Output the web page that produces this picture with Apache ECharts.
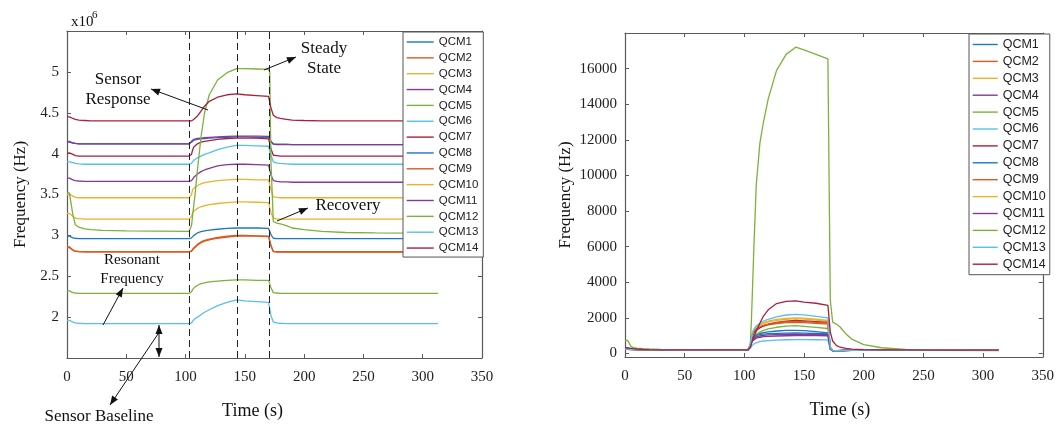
<!DOCTYPE html>
<html><head><meta charset="utf-8">
<script src="https://cdn.jsdelivr.net/npm/echarts@6/dist/echarts.min.js"></script>
<style>html,body{margin:0;padding:0;background:#fff}#c{width:1057px;height:426px}</style>
</head><body><div id="c"></div>
<script>
// ---------- DATA ----------
const NAMES = ['QCM1','QCM2','QCM3','QCM4','QCM5','QCM6','QCM7','QCM8','QCM9','QCM10','QCM11','QCM12','QCM13','QCM14'];
const X_TICKS = [0,50,100,150,200,250,300,350];
const LEFT_Y_TICKS = [2,2.5,3,3.5,4,4.5,5];
const RIGHT_Y_TICKS = [0,2000,4000,6000,8000,10000,12000,14000,16000];
const T = [0,2,3,5,7,10,15,20,30,50,103,104,105,106,107,108,110,113,116,120,127,135,143,150,160,170,171,172,174,177,180,185,190,200,215,235,260,313];
const PHASES = [103.5,143.5,170.5];

// Left panel: resonant frequency (x10^6 Hz)
const L1  = [4.15,4.15,4.15,4.13,4.125,4.12,4.12,4.12,4.12,4.12, 4.12,4.12,4.14,4.16,4.165,4.17,4.175,4.18,4.185,4.19, 4.195,4.20,4.205,4.205,4.20,4.20,4.19,4.15,4.12,4.115, 4.115,4.115,4.11,4.11,4.11,4.11,4.11,4.11];
const L2  = [2.85,2.85,2.85,2.82,2.805,2.80,2.80,2.80,2.80,2.80, 2.80,2.80,2.81,2.83,2.85,2.865,2.89,2.92,2.94,2.955, 2.975,2.99,3.00,3.00,2.995,2.99,2.98,2.88,2.805,2.80, 2.80,2.80,2.80,2.80,2.80,2.80,2.80,2.80];
const L3  = [3.50,3.50,3.50,3.48,3.465,3.46,3.46,3.46,3.46,3.46, 3.46,3.46,3.50,3.56,3.58,3.59,3.61,3.63,3.645,3.655, 3.67,3.68,3.685,3.685,3.68,3.68,3.67,3.56,3.47,3.465, 3.46,3.46,3.46,3.46,3.46,3.46,3.46,3.46];
const L4  = [4.14,4.14,4.14,4.13,4.125,4.12,4.12,4.12,4.12,4.12, 4.12,4.12,4.15,4.17,4.175,4.18,4.185,4.19,4.195,4.20, 4.205,4.21,4.215,4.215,4.215,4.21,4.20,4.15,4.115,4.11, 4.11,4.11,4.11,4.11,4.11,4.11,4.11,4.11];
const L5  = [2.32,2.32,2.31,2.30,2.295,2.29,2.29,2.29,2.29,2.29, 2.29,2.29,2.31,2.34,2.36,2.37,2.39,2.41,2.42,2.43, 2.44,2.45,2.455,2.455,2.45,2.45,2.44,2.36,2.30,2.295, 2.29,2.29,2.29,2.29,2.29,2.29,2.29,2.29];
const L6  = [3.90,3.90,3.90,3.89,3.88,3.875,3.87,3.87,3.87,3.87, 3.87,3.87,3.88,3.90,3.92,3.93,3.95,3.97,3.99,4.01, 4.05,4.08,4.10,4.10,4.095,4.09,4.08,3.98,3.90,3.885, 3.88,3.875,3.87,3.87,3.87,3.87,3.87,3.87];
const L7  = [4.00,4.01,4.01,3.99,3.975,3.97,3.97,3.97,3.97,3.97, 3.97,3.97,3.99,4.05,4.08,4.10,4.12,4.14,4.15,4.16, 4.175,4.185,4.19,4.19,4.19,4.18,4.17,4.06,3.98,3.975, 3.97,3.97,3.97,3.97,3.97,3.97,3.97,3.97];
const L8  = [2.99,2.99,2.98,2.97,2.965,2.96,2.96,2.96,2.96,2.96, 2.96,2.96,2.97,2.99,3.00,3.01,3.03,3.045,3.055,3.065, 3.075,3.085,3.09,3.09,3.09,3.085,3.08,3.01,2.965,2.96, 2.96,2.96,2.96,2.96,2.96,2.96,2.96,2.96];
const L9  = [2.86,2.86,2.85,2.82,2.81,2.805,2.80,2.80,2.80,2.80, 2.80,2.80,2.805,2.82,2.84,2.855,2.88,2.91,2.93,2.945, 2.965,2.98,2.99,2.99,2.99,2.985,2.975,2.87,2.80,2.795, 2.795,2.795,2.795,2.795,2.795,2.795,2.795,2.795];
const L10 = [3.27,3.27,3.27,3.23,3.21,3.205,3.20,3.20,3.20,3.20, 3.20,3.20,3.23,3.28,3.30,3.31,3.33,3.35,3.365,3.375, 3.39,3.40,3.41,3.41,3.405,3.40,3.39,3.28,3.21,3.20, 3.20,3.20,3.20,3.20,3.20,3.20,3.20,3.20];
const L11 = [3.70,3.70,3.69,3.68,3.67,3.665,3.66,3.66,3.66,3.66, 3.66,3.66,3.67,3.69,3.71,3.73,3.75,3.78,3.80,3.82, 3.85,3.865,3.87,3.87,3.865,3.86,3.85,3.74,3.67,3.66, 3.655,3.655,3.65,3.65,3.65,3.65,3.65,3.65];
const L12 = [3.52,3.52,3.50,3.25,3.13,3.10,3.08,3.07,3.06,3.055, 3.05,3.05,3.12,3.25,3.38,3.50,3.80,4.20,4.50,4.72, 4.90,4.99,5.04,5.04,5.035,5.03,5.00,3.90,3.17,3.15, 3.14,3.12,3.09,3.07,3.05,3.035,3.03,3.025];
const L13 = [1.96,1.96,1.95,1.94,1.93,1.925,1.92,1.92,1.92,1.92, 1.92,1.92,1.93,1.95,1.97,1.98,2.00,2.03,2.06,2.09, 2.14,2.18,2.21,2.20,2.19,2.18,2.17,2.02,1.94,1.93, 1.925,1.92,1.92,1.92,1.92,1.92,1.92,1.92];
const L14 = [4.45,4.45,4.44,4.43,4.42,4.41,4.405,4.40,4.40,4.40, 4.40,4.40,4.40,4.41,4.42,4.43,4.46,4.52,4.58,4.64, 4.69,4.72,4.73,4.72,4.71,4.70,4.69,4.56,4.47,4.44, 4.43,4.42,4.41,4.405,4.40,4.40,4.40,4.40];

// Right panel: frequency shift (Hz)
const R1  = [260,255,250,240,230,220,210,205,200,200, 200,200,400,650,850,950,1050,1120,1170,1210, 1260,1290,1300,1280,1220,1150,1100,250,150,150, 160,170,180,190,190,190,190,190];
const R2  = [250,250,245,235,225,215,210,205,200,200, 200,200,450,800,1050,1200,1320,1450,1530,1600, 1680,1730,1750,1730,1690,1650,1600,300,160,150, 160,170,180,185,190,190,190,190];
const R3  = [240,240,235,230,220,215,210,205,200,200, 200,200,500,900,1150,1300,1450,1580,1680,1770, 1860,1920,1950,1930,1870,1800,1750,300,150,140, 150,165,175,185,190,190,190,190];
const R4  = [230,230,225,220,215,210,205,200,200,200, 200,200,380,600,720,800,860,910,940,960, 980,995,1000,1000,1000,995,980,250,150,150, 160,170,180,185,190,190,190,190];
const R5  = [240,240,235,230,225,215,210,205,200,200, 200,200,400,700,850,950,1080,1200,1300,1380, 1470,1530,1560,1520,1460,1400,1380,280,150,150, 160,170,180,185,190,190,190,190];
const R6  = [230,230,225,220,215,210,205,200,200,200, 200,200,280,400,480,540,600,660,700,720, 750,770,780,780,770,760,750,220,140,140, 150,165,175,185,190,190,190,190];
const R7  = [260,260,255,245,235,225,215,205,200,200, 200,200,420,780,1000,1150,1300,1450,1550,1640, 1740,1810,1850,1830,1790,1750,1700,350,170,160, 165,170,180,185,190,190,190,190];
const R8  = [250,250,245,235,225,215,210,205,200,200, 200,200,450,750,880,950,1010,1060,1090,1110, 1130,1145,1150,1140,1120,1100,1080,260,150,145, 155,165,175,185,190,190,190,190];
const R9  = [250,250,245,235,225,215,210,205,200,200, 200,200,480,850,1100,1250,1380,1500,1580,1650, 1730,1780,1800,1790,1750,1700,1660,300,160,150, 160,170,180,185,190,190,190,190];
const R10 = [250,250,245,235,225,215,210,205,200,200, 200,200,550,950,1200,1350,1500,1620,1720,1810, 1910,1970,2000,1980,1920,1850,1800,320,160,150, 160,170,180,185,190,190,190,190];
const R11 = [240,240,235,225,220,210,205,200,200,200, 200,200,420,680,800,870,930,980,1010,1040, 1060,1075,1080,1075,1065,1050,1030,260,150,145, 155,165,175,185,190,190,190,190];
const R12 = [700,750,850,400,330,300,270,250,230,210, 200,200,500,2000,4000,6000,9500,11800,13000,14300, 15900,16800,17200,17050,16800,16550,16500,3000,1750,1650, 1500,1100,800,500,320,220,180,160];
const R13 = [240,240,235,230,220,215,210,205,200,200, 200,200,500,900,1150,1350,1550,1700,1820,1920, 2060,2160,2200,2170,2080,2000,1960,330,160,150, 160,170,180,185,190,190,190,190];
const R14 = [330,320,310,290,270,250,230,215,205,200, 200,200,350,550,750,950,1250,1700,2100,2450, 2800,2920,2950,2880,2820,2700,2600,1200,700,450, 350,280,240,210,200,195,190,190];

const LEFT = [L1,L2,L3,L4,L5,L6,L7,L8,L9,L10,L11,L12,L13,L14];
const RIGHT = [R1,R2,R3,R4,R5,R6,R7,R8,R9,R10,R11,R12,R13,R14];

// ---------- STYLE ----------
const COLORS = ['#1a78c2','#d95a22','#ebb22c','#84399a','#7cb23a','#55c0ee','#a8213c',
                '#1a78c2','#d95a22','#ebb22c','#84399a','#7cb23a','#55c0ee','#a8213c'];
const SERIF = '"Liberation Serif", "Times New Roman", serif';
const SANS = '"Liberation Sans", Arial, sans-serif';
const AX = '#5a5a5a';

const chart = echarts.init(document.getElementById('c'), null, {renderer:'canvas'});

function xAxisDef(grid, pos, showLabels, nameCfg) {
  return Object.assign({
    type:'value', gridIndex:grid, position:pos, min:0, max:350, interval:50,
    axisLine:{show:true, onZero:false, lineStyle:{color:AX, width:1.2}},
    axisTick:{show:true, inside:true, length:4, lineStyle:{color:AX}},
    axisLabel:{show:showLabels, fontFamily:SERIF, fontSize:15, color:'#222', margin:12},
    splitLine:{show:false}
  }, nameCfg || {});
}

const LGRID = {left:67, top:31, width:415, height:327};
const RGRID = {left:625, top:33, width:425, height:324};

const series = [];
NAMES.forEach((n,i)=>{
  const s = {
    name:n, type:'line', xAxisIndex:0, yAxisIndex:0, symbol:'none', showSymbol:false,
    lineStyle:{width:1.3, color:COLORS[i]}, itemStyle:{color:COLORS[i]},
    data:T.map((t,k)=>[t, LEFT[i][k]])
  };
  if (i===0) {
    s.markLine = {symbol:['none','none'], silent:true, label:{show:false},
      lineStyle:{color:'#222', type:[7,4], width:1},
      data:PHASES.map(p=>({xAxis:p}))};
  }
  series.push(s);
});
NAMES.forEach((n,i)=>{
  series.push({
    name:n, type:'line', xAxisIndex:2, yAxisIndex:2, symbol:'none', showSymbol:false,
    lineStyle:{width:1.3, color:COLORS[i]}, itemStyle:{color:COLORS[i]},
    data:T.map((t,k)=>[t, RIGHT[i][k]])
  });
});

const legendBase = {
  orient:'vertical', selectedMode:false, backgroundColor:'#fff',
  borderColor:'#555', borderWidth:1, data:NAMES, z:10,
  itemStyle:{opacity:0, borderWidth:0},
  lineStyle:{width:1.4}
};

const option = {
  animation:false,
  backgroundColor:'#fff',
  grid:[Object.assign({containLabel:false}, LGRID), Object.assign({containLabel:false}, RGRID)],
  xAxis:[
    xAxisDef(0,'bottom',true,{name:'Time (s)', nameLocation:'middle', nameGap:44,
      nameTextStyle:{fontFamily:SERIF, fontSize:18, color:'#111', padding:[0,44,0,0]}}),
    xAxisDef(0,'top',false),
    xAxisDef(1,'bottom',true,{name:'Time (s)', nameLocation:'middle', nameGap:44,
      nameTextStyle:{fontFamily:SERIF, fontSize:18, color:'#111', padding:[0,0,0,12]}}),
    xAxisDef(1,'top',false)
  ],
  yAxis:[
    {type:'value', gridIndex:0, position:'left', min:1.5, max:5.5, interval:0.5,
     name:'Frequency (Hz)', nameLocation:'middle', nameGap:38,
     nameTextStyle:{fontFamily:SERIF, fontSize:17, color:'#111'},
     axisLine:{show:true, onZero:false, lineStyle:{color:AX, width:1.2}},
     axisTick:{show:true, inside:true, length:4, lineStyle:{color:AX}},
     axisLabel:{fontFamily:SERIF, fontSize:15, color:'#222', margin:8, showMinLabel:false, showMaxLabel:false},
     splitLine:{show:false}},
    {type:'value', gridIndex:0, position:'right', min:1.5, max:5.5, interval:0.5,
     axisLine:{show:true, onZero:false, lineStyle:{color:AX, width:1.2}},
     axisTick:{show:true, inside:true, length:4, lineStyle:{color:AX}},
     axisLabel:{show:false}, splitLine:{show:false}},
    {type:'value', gridIndex:1, position:'left', min:-200, max:18000,
     name:'Frequency (Hz)', nameLocation:'middle', nameGap:51,
     nameTextStyle:{fontFamily:SERIF, fontSize:17, color:'#111'},
     axisLine:{show:true, onZero:false, lineStyle:{color:AX, width:1.2}},
     axisTick:{show:true, inside:true, length:4, lineStyle:{color:AX}, customValues:RIGHT_Y_TICKS},
     axisLabel:{fontFamily:SERIF, fontSize:15, color:'#222', margin:8, customValues:RIGHT_Y_TICKS,
       formatter:function(v){return String(v);}},
     splitLine:{show:false}},
    {type:'value', gridIndex:1, position:'right', min:-200, max:18000,
     axisLine:{show:true, onZero:false, lineStyle:{color:AX, width:1.2}},
     axisTick:{show:true, inside:true, length:4, lineStyle:{color:AX}, customValues:RIGHT_Y_TICKS},
     axisLabel:{show:false}, splitLine:{show:false}}
  ],
  legend:[
    Object.assign({}, legendBase, {left:403, top:32, itemWidth:27, itemHeight:10, itemGap:3.85,
      padding:[4,5,3,3], textStyle:{fontFamily:SANS, fontSize:11.5, color:'#222'}}),
    Object.assign({}, legendBase, {left:969, top:34, itemWidth:25, itemHeight:11, itemGap:3.9,
      padding:[4,4,4,3], textStyle:{fontFamily:SANS, fontSize:12.5, color:'#222'}})
  ],
  series:series
};
chart.setOption(option);

// ---------- ANNOTATIONS (left panel) ----------
function head(xa,ya,xb,yb){
  const a=Math.atan2(yb-ya,xb-xa), L=9, W=3.5;
  const bx=xb-L*Math.cos(a), by=yb-L*Math.sin(a);
  const px=-Math.sin(a)*W, py=Math.cos(a)*W;
  return {type:'polygon', z:100, silent:true, shape:{points:[[xb,yb],[bx+px,by+py],[bx-px,by-py]]}, style:{fill:'#111'}};
}
function arrow(x1,y1,x2,y2,both){
  const els=[{type:'line', z:100, silent:true, shape:{x1:x1,y1:y1,x2:x2,y2:y2}, style:{stroke:'#111', lineWidth:1}}];
  els.push(head(x1,y1,x2,y2));
  if (both) els.push(head(x2,y2,x1,y1));
  return els;
}
function label(x,y,text,size,lh){
  return {type:'text', z:100, silent:true, x:x, y:y,
    style:{text:text, font:size+'px '+SERIF, fill:'#111', align:'center', verticalAlign:'middle', lineHeight:lh||size+3}};
}
const g = [];
g.push({type:'text', z:100, silent:true, x:71, y:22, style:{text:'x10', font:'15px '+SERIF, fill:'#111', align:'left', verticalAlign:'middle'}});
g.push({type:'text', z:100, silent:true, x:92, y:15, style:{text:'6', font:'11px '+SERIF, fill:'#111', align:'left', verticalAlign:'middle'}});
g.push(label(118,90,'Sensor\nResponse',17,20));
g.push(...arrow(208,110,151,89));
g.push(label(324,59,'Steady\nState',17,20));
g.push(...arrow(264,70,296,57));
g.push(label(348,206,'Recovery',17));
g.push(...arrow(277,221,308,208));
g.push(label(132,270,'Resonant\nFrequency',15,19));
g.push(...arrow(103,325,123,288));
g.push(...arrow(159,325,159,357,true));
g.push(...arrow(158,334,110,405));
g.push(label(99,417,'Sensor Baseline',17));
chart.setOption({graphic:g});
</script>
</body></html>
